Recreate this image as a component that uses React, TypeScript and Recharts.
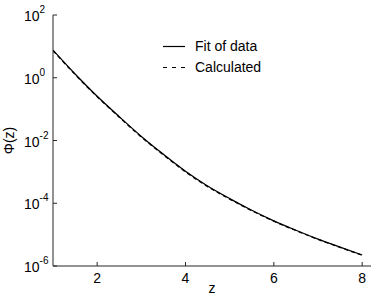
import { LineChart, Line, XAxis, YAxis, Legend, Label } from 'recharts'

const zValues = [1, 1.5, 2, 2.5, 3, 3.5, 4, 4.5, 5, 5.5, 6, 6.5, 7, 7.5, 8]
const fitOfData = [
  7.6, 1.32, 0.257, 0.0575, 0.0135, 0.00363, 1.05e-3, 3.55e-4, 1.41e-4, 6.0e-5, 2.75e-5, 1.38e-5,
  7.2e-6, 4.0e-6, 2.24e-6,
]
const calculated = [
  7.3, 1.27, 0.248, 0.0555, 0.0129, 0.00348, 1.0e-3, 3.4e-4, 1.36e-4, 5.8e-5, 2.68e-5, 1.35e-5,
  7.05e-6, 3.92e-6, 2.2e-6,
]
const xTicks = [2, 4, 6, 8]
const yTicks = [1e-6, 1e-4, 1e-2, 1, 100]

const data = zValues.map((z, i) => ({ z, fit: fitOfData[i], calc: calculated[i] }))

const FONT = '"Liberation Sans", Arial, Helvetica, sans-serif'
const AXIS = '#262626'

const BottomTick = ({ x, y, payload }: any) => (
  <g>
    <line x1={x} x2={x} y1={y} y2={y - 4} stroke={AXIS} />
    <text x={x} y={y + 17} textAnchor="middle" fontSize={14} fill="#000" fontFamily={FONT}>
      {payload.value}
    </text>
  </g>
)

const LeftTick = ({ x, y, payload }: any) => {
  const exp = Math.round(Math.log10(payload.value))
  return (
    <g>
      <line x1={x} x2={x + 4} y1={y} y2={y} stroke={AXIS} />
      <text x={x - 29} y={y + 6} textAnchor="start" fontSize={14} fill="#000" fontFamily={FONT}>
        10
        <tspan fontSize={10} dy={-8}>{exp}</tspan>
      </text>
    </g>
  )
}

const TopTick = ({ x, y }: any) => <line x1={x} x2={x} y1={y} y2={y + 4} stroke={AXIS} />
const RightTick = ({ x, y }: any) => <line x1={x - 4} x2={x} y1={y} y2={y} stroke={AXIS} />

const LegendBox = () => (
  <div
    style={{
      fontFamily: FONT,
      fontSize: 14,
      lineHeight: '21px',
      color: '#000',
      whiteSpace: 'nowrap',
      width: 'max-content',
    }}
  >
    <div style={{ display: 'flex', alignItems: 'center' }}>
      <svg width={22} height={21} style={{ marginRight: 10, flexShrink: 0 }}>
        <line x1={0} x2={22} y1={10.5} y2={10.5} stroke="#000" strokeWidth={1.2} />
      </svg>
      Fit of data
    </div>
    <div style={{ display: 'flex', alignItems: 'center' }}>
      <svg width={22} height={21} style={{ marginRight: 10, flexShrink: 0 }}>
        <line x1={0} x2={22} y1={10.5} y2={10.5} stroke="#000" strokeWidth={1.2} strokeDasharray="4 5" />
      </svg>
      Calculated
    </div>
  </div>
)

export default function App() {
  return (
    <div style={{ position: 'absolute', left: 0, top: 0, width: 374, height: 299, background: '#fff' }}>
      <LineChart width={374} height={299} data={data} margin={{ top: 15, right: 3, bottom: 0, left: 0 }}>
        <XAxis
          xAxisId="bottom"
          dataKey="z"
          type="number"
          domain={[1, 8.2]}
          ticks={xTicks}
          allowDataOverflow
          height={33}
          tickSize={0}
          tickMargin={0}
          tickLine={false}
          axisLine={{ stroke: AXIS }}
          tick={<BottomTick />}
        >
          <Label value="z" position="insideBottom" offset={6} fontSize={14} fill="#000" fontFamily={FONT} />
        </XAxis>
        <XAxis
          xAxisId="top"
          orientation="top"
          dataKey="z"
          type="number"
          domain={[1, 8.2]}
          ticks={xTicks}
          allowDataOverflow
          height={0}
          tickSize={0}
          tickMargin={0}
          tickLine={false}
          axisLine={{ stroke: AXIS }}
          tick={<TopTick />}
        />
        <YAxis
          yAxisId="left"
          type="number"
          scale="log"
          domain={[1e-6, 100]}
          ticks={yTicks}
          allowDataOverflow
          width={53}
          tickSize={0}
          tickMargin={0}
          tickLine={false}
          axisLine={{ stroke: AXIS }}
          tick={<LeftTick />}
        >
          <Label
            content={({ viewBox }: any) => {
              const cx = viewBox.x + 14
              const cy = viewBox.y + viewBox.height / 2
              return (
                <text
                  x={cx}
                  y={cy}
                  transform={`rotate(-90 ${cx} ${cy})`}
                  textAnchor="middle"
                  fontSize={14}
                  fill="#000"
                  fontFamily={FONT}
                >
                  Φ(z)
                </text>
              )
            }}
          />
        </YAxis>
        <YAxis
          yAxisId="right"
          orientation="right"
          type="number"
          scale="log"
          domain={[1e-6, 100]}
          ticks={yTicks}
          allowDataOverflow
          width={0}
          tickSize={0}
          tickMargin={0}
          tickLine={false}
          axisLine={{ stroke: AXIS }}
          tick={<RightTick />}
        />
        <Legend
          content={<LegendBox />}
          wrapperStyle={{ position: 'absolute', left: 163, top: 36, width: 0, height: 0, overflow: 'visible' }}
        />
        <Line
          xAxisId="bottom"
          yAxisId="left"
          type="monotone"
          dataKey="fit"
          name="Fit of data"
          stroke="#000"
          strokeWidth={1.3}
          dot={false}
          isAnimationActive={false}
        />
        <Line
          xAxisId="top"
          yAxisId="right"
          type="monotone"
          dataKey="calc"
          name="Calculated"
          stroke="#000"
          strokeWidth={1.3}
          strokeDasharray="4 3"
          dot={false}
          isAnimationActive={false}
        />
      </LineChart>
    </div>
  )
}
